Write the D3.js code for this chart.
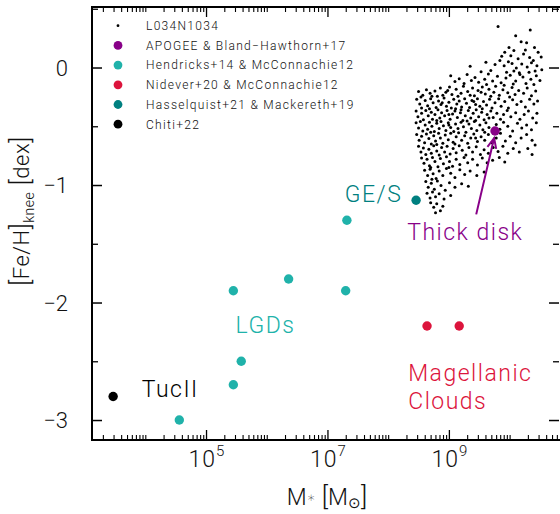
<!DOCTYPE html>
<html><head><meta charset="utf-8">
<script src="https://cdn.jsdelivr.net/npm/d3@7"></script>
<style>
html,body{margin:0;padding:0;background:#fff;}
svg text{font-family:Roboto,"DejaVu Sans",sans-serif;font-weight:300;}
</style></head>
<body><svg id="c" width="560" height="514"></svg>
<script>
// ---------- data ----------
const legendLabels = ["L034N1034","APOGEE & Bland\u2212Hawthorn+17","Hendricks+14 & McConnachie12","Nidever+20 & McConnachie12","Hasselquist+21 & Mackereth+19","Chiti+22"];
const legendColors = ["#000","#880088","#20b2aa","#dc143c","#008080","#000"];

// log10(M*/Msun), [Fe/H]knee
const apogeeLogM = [9.76];  const apogeeFeH = [-0.54];
const hendricksLogM = [4.56, 5.45, 5.58, 5.45, 6.36, 7.30, 7.32];
const hendricksFeH  = [-3.00, -2.70, -2.50, -1.90, -1.80, -1.90, -1.30];
const nideverLogM = [8.64, 9.17]; const nideverFeH = [-2.20, -2.20];
const hasselLogM = [8.46]; const hasselFeH = [-1.13];
const chitiLogM = [3.47]; const chitiFeH = [-2.80];

const xMajorTicks = [1e5, 1e7, 1e9];
const xTickExp = ["5","7","9"];
const yMajorTicks = [0, -1, -2, -3];
const yTickLabels = ["0","\u22121","\u22122","\u22123"];

// simulation galaxies L034N1034: [log10 M*, [Fe/H]knee]
const l034n1034 = [
[9.81,0.35],[10.34,0.32],[10.10,0.27],[10.28,0.21],[9.99,0.17],[10.41,0.17],[10.19,0.22],
[9.92,0.13],[10.07,0.145],[10.23,0.115],[10.33,0.085],[10.47,0.13],[9.87,0.095],[10.14,0.075],[10.39,0.06],[9.98,0.05],[10.52,0.09],[10.26,0.15],[10.02,0.1],
[9.61,0.045],[9.76,0.025],[9.91,0.015],[10.04,0.035],[10.11,-0.005],[10.2,0.03],[10.29,0.005],[10.36,0.04],[10.45,0.015],[10.53,-0.02],[9.69,-0.025],[9.84,0.06],[10.07,-0.03],[10.32,-0.04],[9.35,0.01],[9.53,-0.035],[10.16,-0.045],[9.95,-0.04],[10.42,-0.03],
[9.03,-0.07],[9.17,-0.095],[9.3,-0.06],[9.43,-0.085],[9.49,-0.125],[9.59,-0.1],[9.65,-0.055],[9.72,-0.115],[9.8,-0.075],[9.86,-0.13],[9.94,-0.09],[10.01,-0.065],[10.1,-0.115],[10.22,-0.08],[10.27,-0.135],[10.35,-0.1],[10.44,-0.07],[10.5,-0.11],[9.25,-0.135],[9.62,-0.145],[10.06,-0.14],[10.4,-0.145],[9.1,-0.12],[9.37,-0.11],[9.91,-0.15],[10.17,-0.06],
[8.5,-0.205],[8.57,-0.235],[8.63,-0.19],[8.69,-0.22],[8.77,-0.2],[8.81,-0.245],[8.86,-0.175],[8.95,-0.21],[9.01,-0.165],[9.05,-0.23],[9.12,-0.185],[9.2,-0.22],[9.24,-0.16],[9.31,-0.205],[9.39,-0.175],[9.42,-0.24],[9.48,-0.195],[9.55,-0.165],[9.6,-0.225],[9.66,-0.185],[9.74,-0.21],[9.77,-0.16],[9.83,-0.235],[9.89,-0.19],[9.97,-0.215],[10.04,-0.17],[10.09,-0.23],[10.15,-0.195],[10.23,-0.22],[10.29,-0.175],[10.36,-0.24],[10.43,-0.2],[8.54,-0.25],[8.72,-0.245],[8.9,-0.235],[9.15,-0.245],[9.35,-0.235],[9.69,-0.245],[10.0,-0.25],[8.98,-0.195],[9.53,-0.21],
[8.47,-0.27],[8.52,-0.31],[8.55,-0.345],[8.61,-0.28],[8.65,-0.325],[8.7,-0.265],[8.74,-0.3],[8.79,-0.34],[8.83,-0.285],[8.87,-0.315],[8.92,-0.26],[8.96,-0.33],[9.0,-0.295],[9.04,-0.345],[9.08,-0.27],[9.13,-0.31],[9.17,-0.285],[9.21,-0.335],[9.26,-0.265],[9.29,-0.305],[9.34,-0.34],[9.38,-0.28],[9.44,-0.315],[9.47,-0.265],[9.51,-0.33],[9.57,-0.29],[9.62,-0.32],[9.67,-0.27],[9.71,-0.345],[9.76,-0.3],[9.82,-0.265],[9.86,-0.33],[9.92,-0.29],[9.98,-0.345],[10.05,-0.275],[10.12,-0.315],[10.19,-0.29],[10.26,-0.335],[10.33,-0.27],[10.4,-0.31],[10.46,-0.285],[8.68,-0.35],[9.11,-0.35],[9.55,-0.35],[8.89,-0.3],[9.41,-0.29],
[8.46,-0.37],[8.49,-0.42],[8.55,-0.39],[8.58,-0.445],[8.62,-0.365],[8.66,-0.41],[8.71,-0.38],[8.73,-0.44],[8.77,-0.4],[8.82,-0.36],[8.85,-0.43],[8.88,-0.385],[8.93,-0.41],[8.97,-0.365],[9.02,-0.44],[9.06,-0.395],[9.1,-0.37],[9.14,-0.425],[9.19,-0.385],[9.23,-0.45],[9.27,-0.41],[9.32,-0.365],[9.36,-0.43],[9.4,-0.39],[9.45,-0.36],[9.49,-0.42],[9.54,-0.38],[9.58,-0.445],[9.63,-0.4],[9.69,-0.37],[9.73,-0.425],[9.79,-0.39],[9.85,-0.44],[9.9,-0.4],[9.96,-0.365],[10.02,-0.42],[10.1,-0.385],[10.17,-0.44],[10.24,-0.4],[10.31,-0.37],[10.38,-0.43],[10.45,-0.39],[8.8,-0.45],[9.0,-0.4],[9.2,-0.36],[9.44,-0.45],[9.66,-0.43],
[8.46,-0.47],[8.5,-0.515],[8.53,-0.46],[8.57,-0.54],[8.61,-0.49],[8.65,-0.525],[8.68,-0.465],[8.72,-0.5],[8.76,-0.545],[8.8,-0.475],[8.84,-0.52],[8.87,-0.46],[8.91,-0.495],[8.95,-0.535],[8.99,-0.47],[9.03,-0.51],[9.08,-0.545],[9.11,-0.48],[9.15,-0.52],[9.2,-0.465],[9.24,-0.505],[9.28,-0.55],[9.33,-0.48],[9.37,-0.52],[9.42,-0.46],[9.46,-0.535],[9.51,-0.49],[9.56,-0.53],[9.61,-0.47],[9.66,-0.51],[9.72,-0.545],[9.78,-0.485],[9.84,-0.525],[9.9,-0.465],[9.97,-0.5],[10.05,-0.54],[10.13,-0.475],[10.2,-0.515],[10.28,-0.49],[10.36,-0.53],[10.44,-0.47],[8.7,-0.55],[9.0,-0.49],[9.3,-0.455],[9.59,-0.55],
[8.47,-0.57],[8.51,-0.62],[8.55,-0.585],[8.6,-0.64],[8.63,-0.565],[8.67,-0.605],[8.71,-0.65],[8.75,-0.58],[8.78,-0.625],[8.83,-0.56],[8.86,-0.6],[8.9,-0.645],[8.94,-0.575],[8.99,-0.615],[9.03,-0.56],[9.07,-0.635],[9.12,-0.59],[9.16,-0.555],[9.21,-0.62],[9.26,-0.58],[9.31,-0.645],[9.36,-0.6],[9.41,-0.565],[9.47,-0.63],[9.53,-0.59],[9.59,-0.62],[9.65,-0.57],[9.71,-0.64],[9.78,-0.6],[9.85,-0.56],[9.93,-0.625],[10.01,-0.585],[10.1,-0.64],[10.19,-0.6],[10.28,-0.57],[10.37,-0.62],[10.42,-0.66],[8.8,-0.655],[9.1,-0.65],[9.44,-0.6],
[8.5,-0.67],[8.54,-0.72],[8.58,-0.685],[8.62,-0.74],[8.67,-0.695],[8.71,-0.73],[8.75,-0.665],[8.8,-0.71],[8.84,-0.745],[8.88,-0.68],[8.93,-0.72],[8.97,-0.67],[9.02,-0.735],[9.07,-0.69],[9.12,-0.725],[9.17,-0.665],[9.22,-0.705],[9.28,-0.745],[9.33,-0.68],[9.39,-0.72],[9.45,-0.675],[9.52,-0.74],[9.58,-0.7],[9.65,-0.73],[9.73,-0.68],[9.81,-0.715],[9.89,-0.67],[9.97,-0.73],[10.06,-0.69],[10.16,-0.72],[10.3,-0.69],[10.37,-0.74],
[8.55,-0.77],[8.59,-0.815],[8.64,-0.78],[8.68,-0.835],[8.73,-0.765],[8.77,-0.8],[8.82,-0.845],[8.86,-0.775],[8.91,-0.82],[8.96,-0.76],[9.01,-0.8],[9.06,-0.84],[9.12,-0.78],[9.18,-0.825],[9.25,-0.765],[9.31,-0.81],[9.39,-0.78],[9.47,-0.83],[9.55,-0.77],[9.63,-0.81],[9.72,-0.79],[9.83,-0.765],[9.92,-0.805],[8.7,-0.85],[9.0,-0.85],
[8.6,-0.875],[8.65,-0.92],[8.69,-0.865],[8.74,-0.905],[8.79,-0.945],[8.84,-0.88],[8.9,-0.92],[8.96,-0.86],[9.03,-0.9],[9.1,-0.935],[9.18,-0.87],[9.26,-0.91],[9.35,-0.88],[9.46,-0.92],[9.58,-0.89],[8.72,-0.95],
[8.62,-0.97],[8.66,-1.02],[8.71,-0.985],[8.76,-1.035],[8.81,-0.965],[8.87,-1.005],[8.94,-1.045],[9.01,-0.98],[9.1,-1.02],[9.21,-0.99],[9.32,-1.01],
[8.64,-1.07],[8.69,-1.11],[8.73,-1.06],[8.78,-1.1],[8.84,-1.075],[8.92,-1.12],[9.03,-1.09],[8.7,-1.15],[8.75,-1.19],[8.8,-1.16],[8.86,-1.22],[8.78,-1.235],[8.9,-1.18]
];

// annotations
const annoText  = ["GE/S","LGDs","TucII","Magellanic","Clouds","Thick disk"];
const annoLogM  = [7.76, 5.98, 4.41, 8.33, 8.33, 9.27];
const annoFeH   = [-1.145, -2.26, -2.80, -2.67, -2.91, -1.468];
const annoColor = ["#008080","#20b2aa","#000","#dc143c","#dc143c","#880088"];
const annoAnchor= ["middle","middle","middle","start","start","middle"];
const arrowFrom = [9.45, -1.25];
const arrowTo   = [9.745, -0.60];

// ---------- layout ----------
const L=92, T=7, R=560, B=440;
const svg = d3.select("#c");
const x = d3.scaleLog().domain([Math.pow(10,3.122), Math.pow(10,10.83)]).range([L,R]);
const y = d3.scaleLinear().domain([-3.17, 0.515]).range([B,T]);
const X = lm => x(Math.pow(10,lm));

const xMinor = [];
for (let e=3; e<=10; e++) for (let m=1; m<=9; m++) {
  const v = m*Math.pow(10,e);
  if (v>=x.domain()[0] && v<=x.domain()[1] && !xMajorTicks.includes(v)) xMinor.push(v);
}
const yMinor = [0.5,-0.5,-1.5,-2.5];

function tickAxis(axis, transform, sw){
  const g = svg.append("g").attr("transform",transform).call(axis);
  g.select(".domain").remove();
  g.selectAll("line").attr("stroke","#000").attr("stroke-width",sw);
  g.selectAll("text").remove();
}
tickAxis(d3.axisBottom(x).tickValues(xMajorTicks).tickSize(-10), `translate(0,${B})`, 1.3);
tickAxis(d3.axisBottom(x).tickValues(xMinor).tickSize(-5), `translate(0,${B})`, 1.1);
tickAxis(d3.axisTop(x).tickValues(xMajorTicks).tickSize(-10), `translate(0,${T})`, 1.3);
tickAxis(d3.axisTop(x).tickValues(xMinor).tickSize(-5), `translate(0,${T})`, 1.1);
tickAxis(d3.axisLeft(y).tickValues(yMajorTicks).tickSize(-10), `translate(${L},0)`, 1.5);
tickAxis(d3.axisLeft(y).tickValues(yMinor).tickSize(-6), `translate(${L},0)`, 1.3);
tickAxis(d3.axisRight(y).tickValues(yMajorTicks).tickSize(-10), `translate(${R-1},0)`, 1.5);
tickAxis(d3.axisRight(y).tickValues(yMinor).tickSize(-6), `translate(${R-1},0)`, 1.3);

svg.append("path").attr("d",`M${R},${T}H${L}V${B}H${R}`).attr("fill","none").attr("stroke","#000").attr("stroke-width",2);

// tick labels
svg.append("g").selectAll("text").data(yMajorTicks).join("text")
  .attr("x",68).attr("y",d=>y(d)+8).attr("text-anchor","end")
  .attr("font-size",22).attr("fill","#111")
  .text((d,i)=>yTickLabels[i]);
const xl = svg.append("g").selectAll("text").data(xMajorTicks).join("text")
  .attr("x",d=>x(d)+1).attr("y",467).attr("text-anchor","middle")
  .attr("font-size",23).attr("fill","#111").attr("letter-spacing",1);
xl.text("10");
xl.append("tspan").attr("dy",-11).attr("font-size",15).text((d,i)=>xTickExp[i]);

// axis titles
const xt = svg.append("text").attr("x",327).attr("y",505).attr("text-anchor","middle")
  .attr("font-size",23).attr("fill","#111");
xt.append("tspan").text("M");
xt.append("tspan").attr("font-size",14).attr("dy",-3).text("\u2217");
xt.append("tspan").attr("dy",3).attr("font-size",26).text(" [");
xt.append("tspan").text("M");
xt.append("tspan").attr("font-size",15).attr("dy",3).text("\u2299");
xt.append("tspan").attr("dy",-3).attr("font-size",26).text("]");

const yt = svg.append("text").attr("transform","translate(29,211) rotate(-90)")
  .attr("text-anchor","middle").attr("font-size",22).attr("fill","#111").attr("letter-spacing",0.5);
yt.append("tspan").attr("font-size",25).text("[");
yt.append("tspan").text("Fe/H");
yt.append("tspan").attr("font-size",25).text("]");
yt.append("tspan").attr("font-size",14).attr("dy",5).text("knee");
yt.append("tspan").attr("dy",-5).attr("font-size",25).text(" [");
yt.append("tspan").text("dex");
yt.append("tspan").attr("font-size",25).text("]");

// simulation points
svg.append("g").selectAll("circle").data(l034n1034).join("circle")
  .attr("cx",d=>X(d[0])).attr("cy",d=>y(d[1])).attr("r",1.5).attr("fill","#000");

function dots(lm, fe, col){
  svg.append("g").selectAll("circle").data(lm).join("circle")
    .attr("cx",d=>X(d)).attr("cy",(d,i)=>y(fe[i])).attr("r",4.7).attr("fill",col);
}
dots(hendricksLogM, hendricksFeH, "#20b2aa");
dots(nideverLogM, nideverFeH, "#dc143c");
dots(hasselLogM, hasselFeH, "#008080");
dots(chitiLogM, chitiFeH, "#000");

// arrow
const ax1=X(arrowFrom[0]), ay1=y(arrowFrom[1]), ax2=X(arrowTo[0]), ay2=y(arrowTo[1]);
const ang=Math.atan2(ay2-ay1, ax2-ax1), hl=11, ha=0.42;
svg.append("path").attr("d",
  `M${ax1},${ay1}L${ax2},${ay2}M${ax2-hl*Math.cos(ang-ha)},${ay2-hl*Math.sin(ang-ha)}L${ax2},${ay2}L${ax2-hl*Math.cos(ang+ha)},${ay2-hl*Math.sin(ang+ha)}`)
  .attr("fill","none").attr("stroke","#880088").attr("stroke-width",2);
dots(apogeeLogM, apogeeFeH, "#880088");

// annotations
svg.append("g").selectAll("text").data(annoText).join("text")
  .attr("x",(d,i)=>X(annoLogM[i])).attr("y",(d,i)=>y(annoFeH[i]))
  .attr("text-anchor",(d,i)=>annoAnchor[i]).attr("fill",(d,i)=>annoColor[i])
  .attr("font-size",23).attr("letter-spacing",1.5).text(d=>d);

// legend
const lg = svg.append("g");
legendLabels.forEach((lab,i)=>{
  const cy = 25.7 + i*19.7;
  lg.append("circle").attr("cx",118).attr("cy",cy).attr("r", i===0?1.4:4.4).attr("fill",legendColors[i]);
  lg.append("text").attr("x",146).attr("y",cy+4.3).attr("font-size",12).attr("letter-spacing",1.3)
    .attr("fill","#111").text(lab);
});
</script></body></html>
